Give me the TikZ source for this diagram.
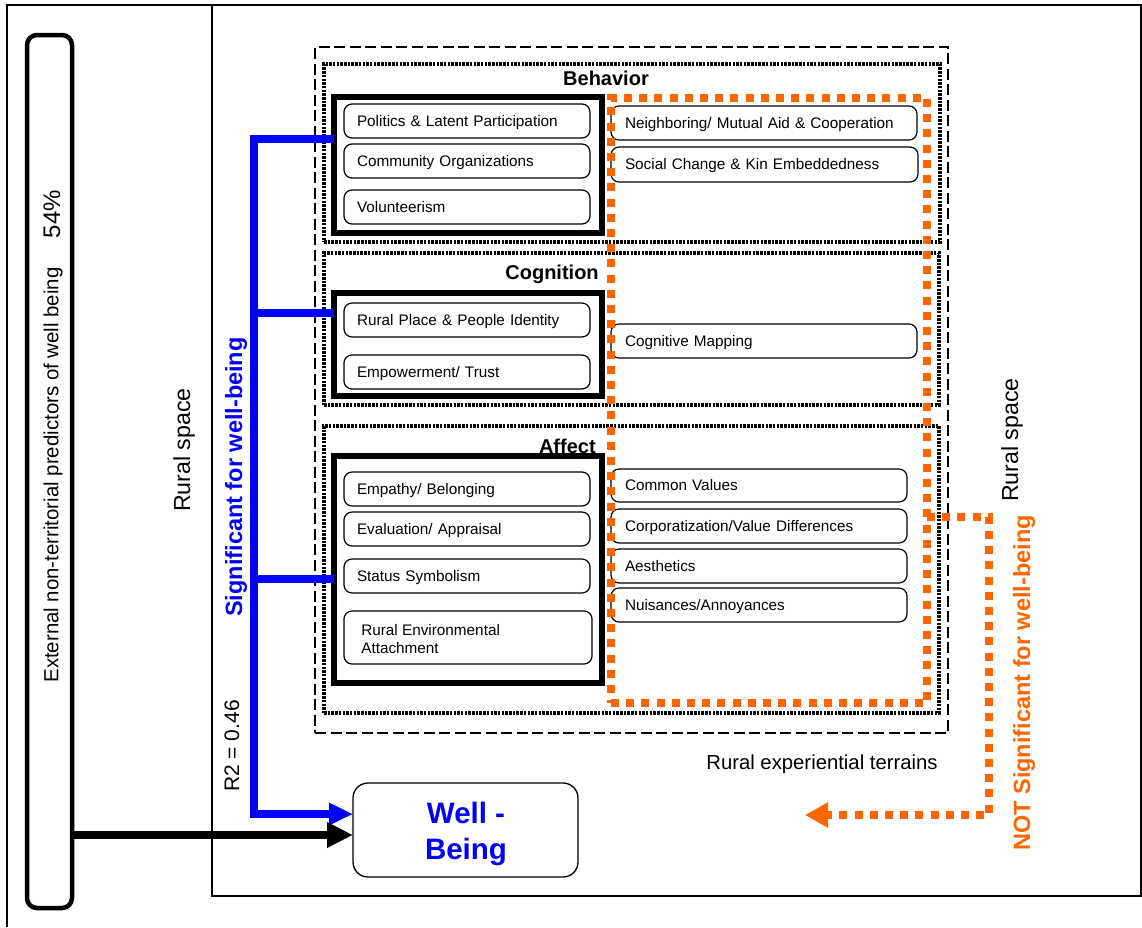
\documentclass[tikz,border=0pt]{standalone}
\usepackage{fontspec}
\setmainfont{Liberation Sans}
\usetikzlibrary{arrows.meta}
\definecolor{wbblue}{RGB}{0,0,255}
\definecolor{nsorange}{RGB}{255,102,0}
\begin{document}
\begin{tikzpicture}[x=1pt,y=-1pt,
  every node/.style={outer sep=0pt},
  boxfont/.style={font=\fontsize{15.3}{18}\selectfont},
  lbox/.style={draw, rounded corners=8pt, line width=1.2pt, anchor=north west,
    minimum height=34pt, text width=220pt, inner xsep=13pt, align=left, boxfont,
    text height=10pt, text depth=0pt},
  rbox/.style={draw, rounded corners=8pt, line width=1.2pt, anchor=north west,
    minimum height=34pt, text width=#1, inner xsep=14pt, align=left, boxfont,
    text height=10pt, text depth=0pt},
  terrain/.style={draw, line width=2.2pt, dash pattern=on 11pt off 4.5pt, anchor=north west},
  dimbox/.style={draw, line width=3.2pt, dash pattern=on 2.5pt off 1.2pt, anchor=north west},
  thickbox/.style={draw, line width=5.5pt, anchor=north west},
  heading/.style={font=\bfseries\fontsize{20}{24}\selectfont},
  orangeline/.style={draw=nsorange, line width=8pt, dash pattern=on 8pt off 7.2pt},
  blueline/.style={draw=wbblue, line width=7.5pt},
  vlabel/.style={rotate=90},
]
\useasboundingbox (0,0) rectangle (1142,927);

% frames
\draw[line width=1.6pt] (7,927) -- (7,5) -- (1142,5);
\draw[line width=1.8pt] (212,5) rectangle (1141,896);

% external bar
\node[draw, line width=4.5pt, rounded corners=10pt, minimum width=45pt, minimum height=873pt] (bar) at (49.5,471.5) {};
\node[vlabel, font=\fontsize{20.4}{24}\selectfont] (ext) at (53,475) {External non-territorial predictors of well being};
\node[vlabel, font=\fontsize{24}{28}\selectfont] (pct) at (52,214) {54\%};

% rural space labels
\node[vlabel, font=\fontsize{23.2}{28}\selectfont] (rsl) at (184,450) {Rural space};
\node[vlabel, font=\fontsize{23.2}{28}\selectfont] (rsr) at (1012,440) {Rural space};

% terrains
\node[terrain, minimum width=633pt, minimum height=686pt] (ter) at (315,47) {};
\node[font=\fontsize{20.3}{24}\selectfont, anchor=base] (terl) at (822,769) {Rural experiential terrains};

% dimension containers
\node[dimbox, minimum width=616pt, minimum height=178pt] (beh) at (324,64) {};
\node[dimbox, minimum width=615pt, minimum height=152pt] (cog) at (324,253) {};
\node[dimbox, minimum width=615pt, minimum height=287pt] (aff) at (324,426) {};
\node[heading, anchor=base] (hb) at (606,85) {Behavior};
\node[heading, anchor=base east] (hc) at (602,279) {Cognition};
\node[heading, anchor=base east] (ha) at (599,453) {Affect};

% significant groups
\node[thickbox, minimum width=268pt, minimum height=136pt] (bthick) at (334,97) {};
\node[thickbox, minimum width=268pt, minimum height=103pt] (cthick) at (334,293) {};
\node[thickbox, minimum width=268pt, minimum height=227pt] (athick) at (334,456) {};

\node[lbox] (pol) at (344,104) {Politics \& Latent Participation};
\node[lbox] (com) at (344,144) {Community Organizations};
\node[lbox] (vol) at (344,190) {Volunteerism};
\node[lbox] (rpp) at (344,303) {Rural Place \& People Identity};
\node[lbox] (emp) at (344,355) {Empowerment/ Trust};
\node[lbox] (ebl) at (344,472) {Empathy/ Belonging};
\node[lbox] (eva) at (344,512) {Evaluation/ Appraisal};
\node[lbox] (sta) at (344,559) {Status Symbolism};
\node[draw, rounded corners=8pt, line width=1.2pt, anchor=north west, minimum width=248pt,
  minimum height=53pt] (rea) at (344,611) {};
\node[boxfont, anchor=base west, align=left] (reat) at (358,653) {Rural Environmental\\Attachment};

% not significant items
\node[rbox=278pt] (nei) at (611,106) {Neighboring/ Mutual Aid \& Cooperation};
\node[rbox=279pt, minimum height=35pt] (soc) at (611,147) {Social Change \& Kin Embeddedness};
\node[rbox=278pt] (cmp) at (611,324) {Cognitive Mapping};
\node[rbox=268pt, minimum height=33pt] (cva) at (611,469) {Common Values};
\node[rbox=268pt] (cor) at (611,509) {Corporatization/Value Differences};
\node[rbox=268pt] (aes) at (611,549) {Aesthetics};
\node[rbox=268pt] (nui) at (611,588) {Nuisances/Annoyances};

\node[orangeline, anchor=north west, minimum width=316pt, minimum height=605pt] (onot) at (611,98) {};

% well-being
\node[draw, rounded corners=15pt, line width=1.3pt, minimum width=225pt, minimum height=94pt] (wb) at (465.5,830) {};
\node[align=center, font=\bfseries\fontsize{29.5}{36}\selectfont, text=wbblue, anchor=base] (wbt) at (466,859) {Well -\\Being};

% blue connectors
\coordinate (bj1) at (254,139);
\coordinate (bj2) at (254,313);
\coordinate (bj3) at (254,579);
\coordinate (bj4) at (254,814);
\draw[blueline, -{Triangle[length=24pt,width=21pt]}] (bthick.west |- bj1) -- (bj1) -- (bj4) -- (wb.west |- bj4);
\draw[blueline] (bj2) -- (cthick.west |- bj2);
\draw[blueline] (bj3) -- (athick.west |- bj3);

% black connector
\coordinate (ba) at (72,835);
\draw[line width=8pt, -{Triangle[length=26pt,width=24pt]}] (bar.east |- ba) -- (wb.west |- ba);

% orange connector
\coordinate (o1) at (989,517);
\coordinate (o2) at (989,815);
\coordinate (oend) at (805,815);
\draw[orangeline, -{Triangle[length=23pt,width=24pt]}] (onot.east |- o1) -- (o1) -- (o2) -- (oend);

% labels
\node[vlabel, font=\bfseries\fontsize{23.5}{28}\selectfont, text=wbblue] (sig) at (236,477) {Significant for well-being};
\node[vlabel, font=\fontsize{21}{25}\selectfont] (r2) at (232,746) {R2 = 0.46};
\node[vlabel, font=\bfseries\fontsize{23.5}{28}\selectfont, text=nsorange] (nsig) at (1024,683) {NOT Significant for well-being};
\end{tikzpicture}
\end{document}
